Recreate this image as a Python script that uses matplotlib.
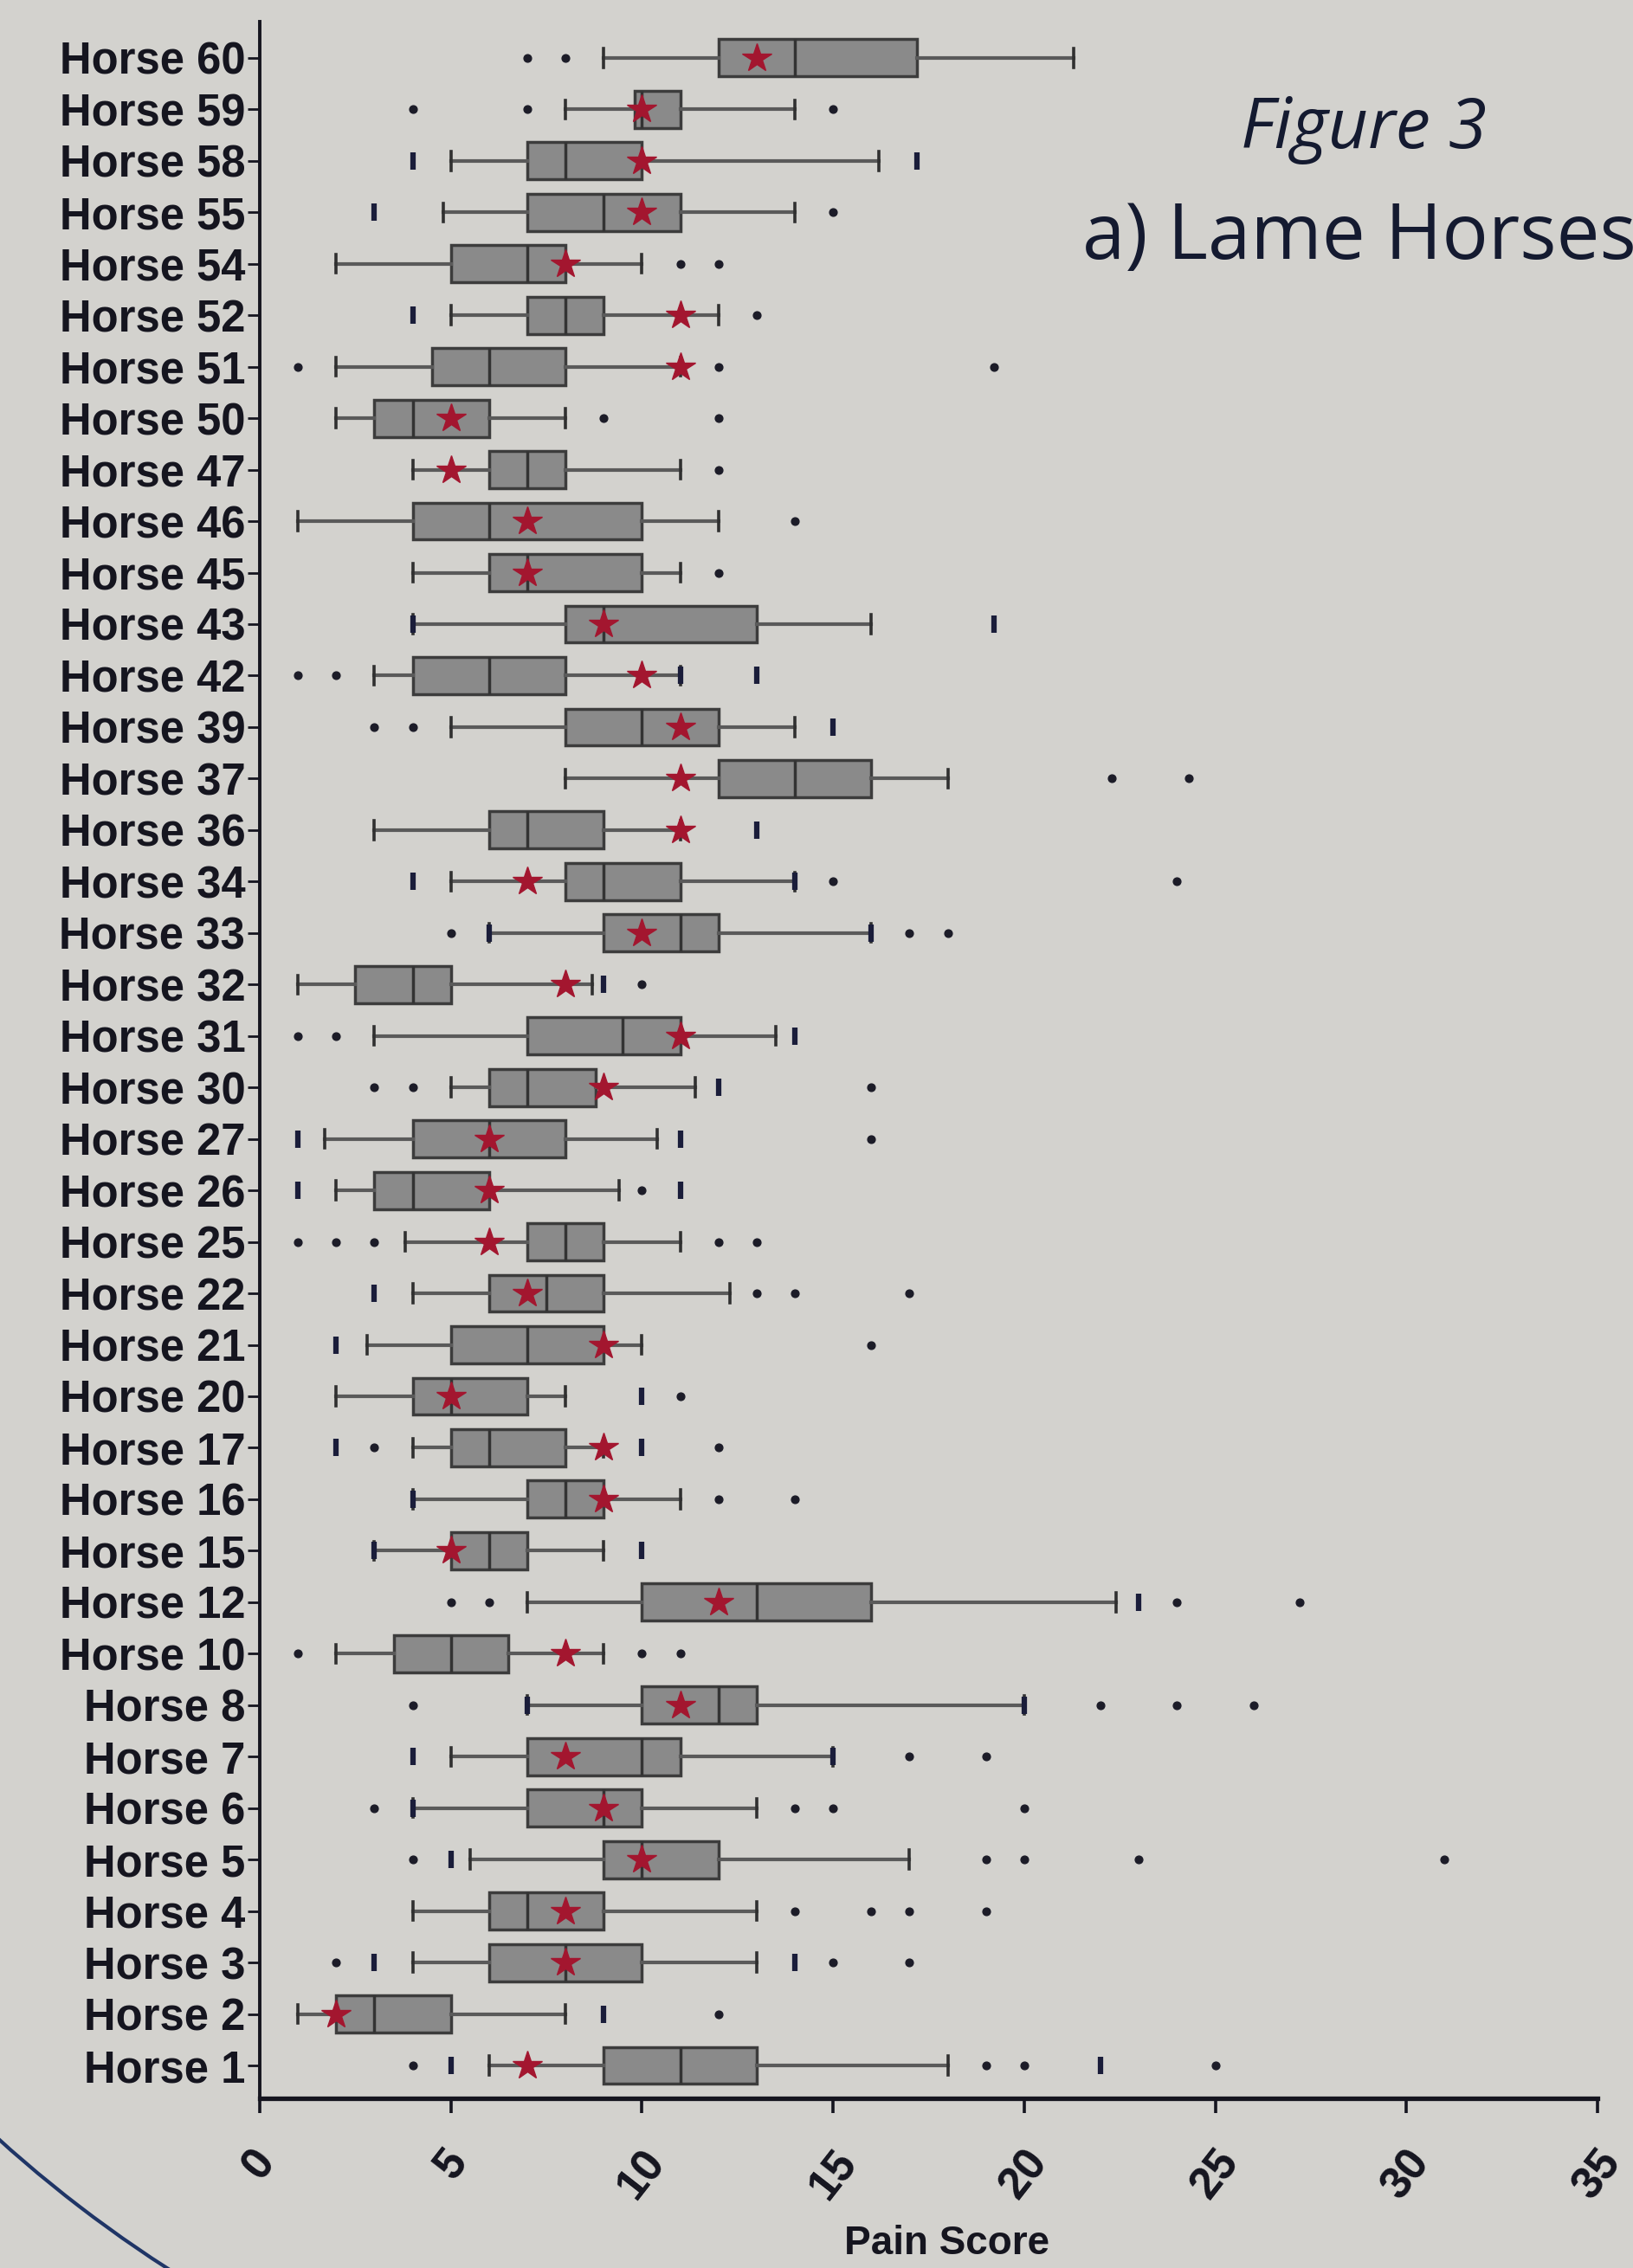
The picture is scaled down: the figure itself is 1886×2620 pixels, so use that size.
import numpy as np
import matplotlib.pyplot as plt
from matplotlib.patches import Arc
from matplotlib.transforms import IdentityTransform

# pain score per horse, listed from the bottom row (Horse 1) to the top row (Horse 60)
horse_ids = [1, 2, 3, 4, 5, 6, 7, 8, 10, 12, 15, 16, 17, 20, 21, 22, 25, 26, 27, 30,
             31, 32, 33, 34, 36, 37, 39, 42, 43, 45, 46, 47, 50, 51, 52, 54, 55, 58, 59, 60]
labels = ['Horse {}'.format(h) for h in horse_ids]

whis_lo = [6, 1, 4, 4, 5.5, 4, 5, 7, 2, 7, 3, 4, 4, 2, 2.8, 4, 3.8, 2, 1.7, 5,
           3, 1, 6, 5, 3, 8, 5, 3, 4, 4, 1, 4, 2, 2, 5, 2, 4.8, 5, 8, 9]
q1 = [9, 2, 6, 6, 9, 7, 7, 10, 3.5, 10, 5, 7, 5, 4, 5, 6, 7, 3, 4, 6,
      7, 2.5, 9, 8, 6, 12, 8, 4, 8, 6, 4, 6, 3, 4.5, 7, 5, 7, 7, 9.8, 12]
medians = [11, 3, 8, 7, 10, 9, 10, 12, 5, 13, 6, 8, 6, 5, 7, 7.5, 8, 4, 6, 7,
           9.5, 4, 11, 9, 7, 14, 10, 6, 9, 7, 6, 7, 4, 6, 8, 7, 9, 8, 10, 14]
q3 = [13, 5, 10, 9, 12, 10, 11, 13, 6.5, 16, 7, 9, 8, 7, 9, 9, 9, 6, 8, 8.8,
      11, 5, 12, 11, 9, 16, 12, 8, 13, 10, 10, 8, 6, 8, 9, 8, 11, 10, 11, 17.2]
whis_hi = [18, 8, 13, 13, 17, 13, 15, 20, 9, 22.4, 9, 11, 9, 8, 10, 12.3, 11, 9.4, 10.4, 11.4,
           13.5, 8.7, 16, 14, 11, 18, 14, 11, 16, 11, 12, 11, 8, 11, 12, 10, 14, 16.2, 14, 21.3]
means = [7, 2, 8, 8, 10, 9, 8, 11, 8, 12, 5, 9, 9, 5, 9, 7, 6, 6, 6, 9,
         11, 8, 10, 7, 11, 11, 11, 10, 9, 7, 7, 5, 5, 11, 11, 8, 10, 10, 10, 13]

# outliers drawn as small dots
out_dots = [[4, 19, 20, 25], [12], [2, 15, 17], [14, 16, 17, 19], [4, 19, 20, 23, 31],
            [3, 14, 15, 20], [17, 19], [4, 22, 24, 26], [1, 10, 11], [5, 6, 24, 27.2],
            [], [12, 14], [3, 12], [11], [16], [13, 14, 17], [1, 2, 3, 12, 13], [10], [16], [3, 4, 16],
            [1, 2], [10], [5, 17, 18], [15, 24], [], [22.3, 24.3], [3, 4], [1, 2], [], [12],
            [14], [12], [9, 12], [1, 12, 19.2], [13], [11, 12], [15], [], [4, 7, 15], [7, 8]]
# outliers drawn as short dark bars (stacked points)
out_bars = [[5, 22], [9], [3, 14], [], [5], [4], [4, 15], [7, 20], [], [23],
            [3, 10], [4], [2, 10], [10], [2], [3], [], [1, 11], [1, 11], [12],
            [14], [9], [6, 16], [4, 14], [13], [], [15], [11, 13], [4, 19.2], [],
            [], [], [], [], [4], [], [3], [4, 17.2], [], []]

bg = '#d3d2ce'
ink = '#15151f'

fig = plt.figure(figsize=(18.86, 26.2), dpi=100, facecolor=bg)
ax = fig.add_axes([300 / 1886, 0.0748, (1845 - 300) / 1886, 0.9905 - 0.0748])
ax.set_facecolor(bg)

pos = np.arange(1, len(horse_ids) + 1)
stats = []
for i in range(len(horse_ids)):
    stats.append({'label': labels[i], 'whislo': whis_lo[i], 'q1': q1[i], 'med': medians[i],
                  'q3': q3[i], 'whishi': whis_hi[i], 'mean': means[i], 'fliers': []})

ax.bxp(stats, positions=pos, vert=False, widths=0.72, capwidths=0.36,
       patch_artist=True, showmeans=True, showfliers=False,
       boxprops=dict(facecolor='#8a8a8a', edgecolor='#3c3c3c', linewidth=2.5),
       medianprops=dict(color='#333333', linewidth=2.5),
       whiskerprops=dict(color='#5a5a5a', linewidth=3.0),
       capprops=dict(color='#303030', linewidth=2.6),
       meanprops=dict(marker='*', markerfacecolor='#a3162f', markeredgecolor='#a3162f',
                      markersize=25, zorder=5))

for i in range(len(horse_ids)):
    if out_dots[i]:
        ax.scatter(out_dots[i], [pos[i]] * len(out_dots[i]), s=40, color='#1c1c28', zorder=4)
    if out_bars[i]:
        ax.scatter(out_bars[i], [pos[i]] * len(out_bars[i]), marker='|', s=220,
                   linewidths=4.5, color='#1a1d3a', zorder=4)

ax.set_xlim(0, 35)
ax.set_ylim(0.361, 40.706)
ax.set_xticks(np.arange(0, 36, 5))
ax.set_yticks(pos)
ax.set_yticklabels(labels)

for s in ['top', 'right']:
    ax.spines[s].set_visible(False)
ax.spines['left'].set_linewidth(2.8)
ax.spines['bottom'].set_linewidth(3.8)
ax.spines['left'].set_color(ink)
ax.spines['bottom'].set_color(ink)

ax.tick_params(axis='y', length=10, width=2, color=ink, pad=2)
ax.tick_params(axis='x', length=12, width=2.6, color=ink, pad=24)
for t in ax.get_yticklabels():
    t.set_fontfamily(['Liberation Sans', 'DejaVu Sans'])
    t.set_fontweight('bold')
    t.set_fontsize(36.5)
    t.set_color(ink)
for t in ax.get_xticklabels():
    t.set_fontfamily(['Liberation Sans', 'DejaVu Sans'])
    t.set_fontweight('bold')
    t.set_fontsize(37)
    t.set_color(ink)
    t.set_rotation(52)
    t.set_ha('center')
    t.set_va('top')

fig.text(1094 / 1886, 1 - 2592 / 2620, 'Pain Score', ha='center', va='center',
         fontsize=33, fontweight='bold', color=ink, family=['Liberation Sans', 'DejaVu Sans'])

fig.text(1575 / 1886, 1 - 150 / 2620, 'Figure 3', ha='center', va='center',
         fontsize=58, fontstyle='italic', color='#141a30', family=['Open Sans', 'DejaVu Sans'])
fig.text(1250 / 1886, 1 - 276 / 2620, 'a) Lame Horses', ha='left', va='center',
         fontsize=64, color='#141a30', family=['Open Sans', 'DejaVu Sans'])

# edge of the round poster panel at bottom left
arc = Arc((1008, 1265), 3010, 3010, theta1=220, theta2=245, color='#1f3566',
          linewidth=3, transform=IdentityTransform())
fig.add_artist(arc)

fig.savefig('out.png', dpi=100, facecolor=bg)
